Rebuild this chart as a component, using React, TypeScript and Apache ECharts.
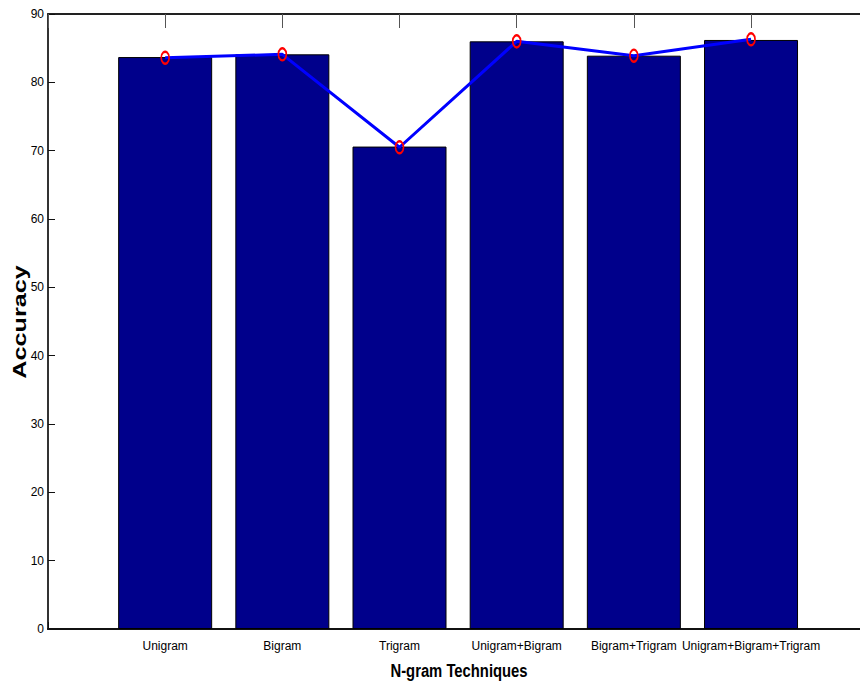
import React, { useEffect, useRef } from "react";
import * as echarts from "echarts";

const categories = ["Unigram", "Bigram", "Trigram", "Unigram+Bigram", "Bigram+Trigram", "Unigram+Bigram+Trigram"];
const barValues = [83.7, 84.1, 70.6, 86.0, 83.9, 86.2];
const lineValues = [83.6, 84.1, 70.5, 86.0, 83.9, 86.3];
const yTicks = [0, 10, 20, 30, 40, 50, 60, 70, 80, 90];

const SANS = "'Liberation Sans', Arial, sans-serif";

export default function App() {
  const ref = useRef<HTMLDivElement>(null);
  useEffect(() => {
    if (!ref.current) return;
    const chart = echarts.init(ref.current, undefined, { renderer: "svg" });
    const barData = barValues.map((v, i) => [i + 1, v]);
    const lineData = lineValues.map((v, i) => [i + 1, v]);
    const xMax = 6.93;
    chart.setOption({
      animation: false,
      backgroundColor: "#fff",
      grid: { left: 48, top: 14, right: 0, bottom: 57, containLabel: false },
      xAxis: [
        {
          type: "value",
          min: 0,
          max: xMax,
          interval: 1,
          position: "bottom",
          axisLine: { show: true, lineStyle: { color: "#111", width: 2 } },
          axisTick: { show: true, inside: true, length: 7, lineStyle: { color: "#111" } },
          splitLine: { show: false },
          axisLabel: {
            margin: 11,
            color: "#000",
            fontFamily: SANS,
            fontSize: 12,
            showMaxLabel: false,
            formatter: (v: number) => (v >= 1 && v <= categories.length ? categories[v - 1] : ""),
          },
        },
        {
          type: "value",
          min: 0,
          max: xMax,
          interval: 1,
          position: "top",
          axisLine: { show: true, lineStyle: { color: "#222", width: 2 } },
          axisTick: { show: true, inside: true, length: 14, lineStyle: { color: "#555" } },
          splitLine: { show: false },
          axisLabel: { show: false },
        },
      ],
      yAxis: {
        type: "value",
        min: 0,
        max: 90,
        interval: 10,
        axisLine: { show: true, lineStyle: { color: "#333", width: 2 } },
        axisTick: { show: true, inside: true, length: 7, lineStyle: { color: "#111" } },
        splitLine: { show: false },
        axisLabel: {
          margin: 4,
          color: "#000",
          fontFamily: SANS,
          fontSize: 12,
          formatter: (v: number) => (yTicks.includes(v) ? String(v) : ""),
        },
      },
      graphic: [
        {
          type: "text",
          x: 20,
          y: 322,
          rotation: Math.PI / 2,
          scaleX: 1.4,
          style: {
            text: "Accuracy",
            font: "bold 18px 'Liberation Sans', Arial, sans-serif",
            fill: "#000",
            textAlign: "center",
            textVerticalAlign: "middle",
          },
        },
        {
          type: "text",
          x: 459,
          y: 671,
          scaleX: 0.78,
          style: {
            text: "N-gram Techniques",
            font: "bold 19px 'Liberation Sans', Arial, sans-serif",
            fill: "#000",
            textAlign: "center",
            textVerticalAlign: "middle",
          },
        },
      ],
      series: [
        {
          type: "bar",
          xAxisIndex: 0,
          data: barData,
          barWidth: 94,
          itemStyle: { color: "#00008B", borderColor: "#000", borderWidth: 1 },
          z: 2,
        },
        {
          type: "line",
          xAxisIndex: 0,
          data: lineData,
          lineStyle: { color: "#0000FF", width: 3 },
          symbol: "circle",
          symbolSize: [8, 12],
          itemStyle: { color: "rgba(255,255,255,0)", borderColor: "#FF0000", borderWidth: 2 },
          z: 3,
        },
      ],
    });
    return () => chart.dispose();
  }, []);
  return <div ref={ref} style={{ position: "fixed", left: 0, top: 0, width: 860, height: 686 }} />;
}
